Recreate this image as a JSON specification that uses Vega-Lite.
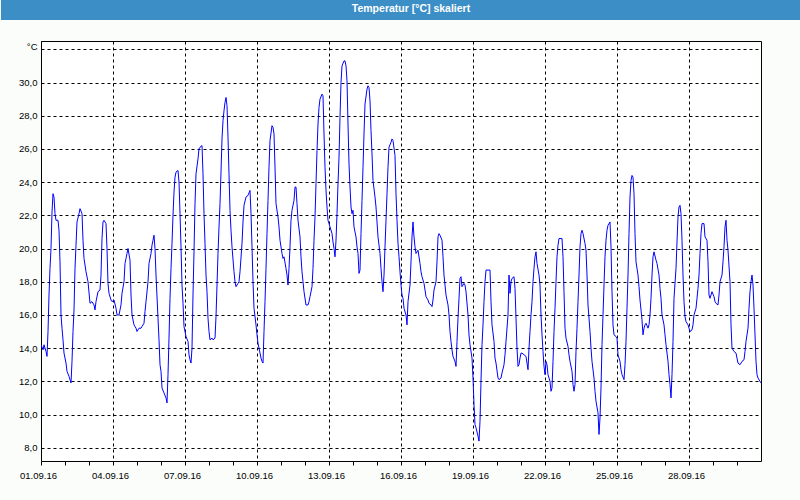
{
"$schema": "https://vega.github.io/schema/vega-lite/v6.json",
"background": "#fbfdfb",
"padding": {"left": 0, "top": 0, "right": 0, "bottom": 20},
"spacing": 20,
"config": {"font": "Liberation Sans"},
"vconcat": [
{
"width": 760, "height": 20,
"view": {"fill": "#3b8ec6", "stroke": null},
"data": {"values": [{"label": "Temperatur [°C] skaliert"}]},
"mark": {"type": "text", "color": "white", "font": "Liberation Sans", "fontSize": 10.5, "fontWeight": "bold", "dx": -10, "dy": -1, "baseline": "middle", "align": "center"},
"encoding": {
 "text": {"field": "label"},
 "y": {"field": "label", "type": "nominal", "axis": {"title": null, "labels": false, "ticks": false, "grid": false, "domain": true, "domainColor": "#3b8ec6", "domainWidth": 80, "domainCap": "butt", "translate": 0, "minExtent": 40, "maxExtent": 40}}
}
},
{
"width": 720, "height": 420,
"view": {"fill": "white", "stroke": "black", "strokeWidth": 1},
"data": {"values": [
{"t":"2016-09-01T00:00","v":14.2},{"t":"2016-09-01T02:00","v":13.9},{"t":"2016-09-01T03:00","v":14.2},{"t":"2016-09-01T05:00","v":13.8},{"t":"2016-09-01T06:00","v":13.5},{"t":"2016-09-01T07:00","v":15.0},{"t":"2016-09-01T08:00","v":17.2},{"t":"2016-09-01T09:00","v":18.8},{"t":"2016-09-01T10:00","v":20.0},{"t":"2016-09-01T11:00","v":22.2},{"t":"2016-09-01T12:00","v":23.3},{"t":"2016-09-01T13:00","v":23.1},{"t":"2016-09-01T14:00","v":22.1},{"t":"2016-09-01T15:00","v":21.7},{"t":"2016-09-01T17:00","v":21.7},{"t":"2016-09-01T18:00","v":21.1},{"t":"2016-09-01T19:00","v":19.2},{"t":"2016-09-01T20:00","v":16.0},{"t":"2016-09-01T21:00","v":15.2},{"t":"2016-09-01T22:00","v":14.5},{"t":"2016-09-01T23:00","v":13.7},
{"t":"2016-09-02T01:00","v":13.1},{"t":"2016-09-02T02:00","v":12.6},{"t":"2016-09-02T04:00","v":12.3},{"t":"2016-09-02T06:00","v":11.9},{"t":"2016-09-02T07:00","v":13.2},{"t":"2016-09-02T08:00","v":15.0},{"t":"2016-09-02T09:00","v":16.3},{"t":"2016-09-02T10:00","v":18.8},{"t":"2016-09-02T11:00","v":20.2},{"t":"2016-09-02T12:00","v":21.6},{"t":"2016-09-02T14:00","v":22.1},{"t":"2016-09-02T15:00","v":22.4},{"t":"2016-09-02T17:00","v":22.1},{"t":"2016-09-02T18:00","v":20.5},{"t":"2016-09-02T19:00","v":19.4},{"t":"2016-09-02T21:00","v":18.6},{"t":"2016-09-02T23:00","v":18.0},
{"t":"2016-09-03T01:00","v":16.7},{"t":"2016-09-03T03:00","v":16.8},{"t":"2016-09-03T05:00","v":16.6},{"t":"2016-09-03T06:00","v":16.3},{"t":"2016-09-03T07:00","v":16.8},{"t":"2016-09-03T09:00","v":17.4},{"t":"2016-09-03T11:00","v":17.5},{"t":"2016-09-03T12:00","v":18.4},{"t":"2016-09-03T13:00","v":20.6},{"t":"2016-09-03T14:00","v":21.6},{"t":"2016-09-03T15:00","v":21.7},{"t":"2016-09-03T17:00","v":21.5},{"t":"2016-09-03T18:00","v":20.0},{"t":"2016-09-03T19:00","v":17.9},{"t":"2016-09-03T20:00","v":17.3},{"t":"2016-09-03T22:00","v":16.9},{"t":"2016-09-03T23:00","v":16.8},
{"t":"2016-09-04T01:00","v":16.9},{"t":"2016-09-04T03:00","v":16.4},{"t":"2016-09-04T04:00","v":16.0},{"t":"2016-09-04T06:00","v":16.0},{"t":"2016-09-04T08:00","v":16.6},{"t":"2016-09-04T09:00","v":17.3},{"t":"2016-09-04T11:00","v":18.0},{"t":"2016-09-04T12:00","v":19.1},{"t":"2016-09-04T13:00","v":19.4},{"t":"2016-09-04T14:00","v":19.7},{"t":"2016-09-04T15:00","v":20.0},{"t":"2016-09-04T17:00","v":19.3},{"t":"2016-09-04T18:00","v":17.2},{"t":"2016-09-04T19:00","v":16.0},{"t":"2016-09-04T21:00","v":15.4},{"t":"2016-09-04T23:00","v":15.2},
{"t":"2016-09-05T00:00","v":15.0},{"t":"2016-09-05T02:00","v":15.2},{"t":"2016-09-05T04:00","v":15.2},{"t":"2016-09-05T05:00","v":15.3},{"t":"2016-09-05T07:00","v":15.5},{"t":"2016-09-05T08:00","v":16.2},{"t":"2016-09-05T09:00","v":16.8},{"t":"2016-09-05T11:00","v":18.0},{"t":"2016-09-05T12:00","v":19.1},{"t":"2016-09-05T14:00","v":19.7},{"t":"2016-09-05T15:00","v":20.2},{"t":"2016-09-05T16:00","v":20.5},{"t":"2016-09-05T17:00","v":20.8},{"t":"2016-09-05T18:00","v":20.0},{"t":"2016-09-05T19:00","v":18.4},{"t":"2016-09-05T21:00","v":15.8},{"t":"2016-09-05T22:00","v":14.5},{"t":"2016-09-05T23:00","v":13.0},
{"t":"2016-09-06T00:00","v":12.6},{"t":"2016-09-06T01:00","v":11.6},{"t":"2016-09-06T03:00","v":11.3},{"t":"2016-09-06T05:00","v":11.0},{"t":"2016-09-06T06:00","v":10.7},{"t":"2016-09-06T07:00","v":12.4},{"t":"2016-09-06T08:00","v":14.6},{"t":"2016-09-06T09:00","v":17.0},{"t":"2016-09-06T10:00","v":18.8},{"t":"2016-09-06T11:00","v":20.3},{"t":"2016-09-06T12:00","v":22.0},{"t":"2016-09-06T13:00","v":23.4},{"t":"2016-09-06T14:00","v":24.3},{"t":"2016-09-06T15:00","v":24.6},{"t":"2016-09-06T17:00","v":24.7},{"t":"2016-09-06T18:00","v":24.0},{"t":"2016-09-06T19:00","v":22.1},{"t":"2016-09-06T20:00","v":20.1},{"t":"2016-09-06T21:00","v":17.8},{"t":"2016-09-06T22:00","v":16.7},{"t":"2016-09-06T23:00","v":15.3},
{"t":"2016-09-07T01:00","v":14.7},{"t":"2016-09-07T03:00","v":14.4},{"t":"2016-09-07T04:00","v":13.6},{"t":"2016-09-07T05:00","v":13.3},{"t":"2016-09-07T06:00","v":13.1},{"t":"2016-09-07T07:00","v":14.0},{"t":"2016-09-07T08:00","v":17.2},{"t":"2016-09-07T09:00","v":19.8},{"t":"2016-09-07T10:00","v":22.7},{"t":"2016-09-07T11:00","v":24.5},{"t":"2016-09-07T13:00","v":25.4},{"t":"2016-09-07T14:00","v":26.0},{"t":"2016-09-07T15:00","v":26.1},{"t":"2016-09-07T17:00","v":26.2},{"t":"2016-09-07T18:00","v":24.5},{"t":"2016-09-07T19:00","v":22.1},{"t":"2016-09-07T20:00","v":20.3},{"t":"2016-09-07T21:00","v":18.4},{"t":"2016-09-07T22:00","v":17.4},{"t":"2016-09-07T23:00","v":15.8},
{"t":"2016-09-08T00:00","v":15.0},{"t":"2016-09-08T01:00","v":14.5},{"t":"2016-09-08T03:00","v":14.6},{"t":"2016-09-08T04:00","v":14.5},{"t":"2016-09-08T06:00","v":14.6},{"t":"2016-09-08T07:00","v":15.9},{"t":"2016-09-08T08:00","v":17.8},{"t":"2016-09-08T09:00","v":19.7},{"t":"2016-09-08T10:00","v":21.3},{"t":"2016-09-08T11:00","v":22.7},{"t":"2016-09-08T12:00","v":24.6},{"t":"2016-09-08T13:00","v":26.6},{"t":"2016-09-08T14:00","v":27.7},{"t":"2016-09-08T15:00","v":28.3},{"t":"2016-09-08T16:00","v":28.8},{"t":"2016-09-08T17:00","v":29.1},{"t":"2016-09-08T18:00","v":28.6},{"t":"2016-09-08T19:00","v":26.7},{"t":"2016-09-08T20:00","v":24.5},{"t":"2016-09-08T21:00","v":22.3},{"t":"2016-09-08T22:00","v":21.1},{"t":"2016-09-08T23:00","v":20.1},
{"t":"2016-09-09T01:00","v":18.6},{"t":"2016-09-09T02:00","v":18.0},{"t":"2016-09-09T03:00","v":17.7},{"t":"2016-09-09T05:00","v":17.9},{"t":"2016-09-09T06:00","v":18.0},{"t":"2016-09-09T07:00","v":18.6},{"t":"2016-09-09T09:00","v":20.3},{"t":"2016-09-09T10:00","v":21.6},{"t":"2016-09-09T11:00","v":22.6},{"t":"2016-09-09T13:00","v":23.1},{"t":"2016-09-09T15:00","v":23.2},{"t":"2016-09-09T17:00","v":23.5},{"t":"2016-09-09T18:00","v":22.1},{"t":"2016-09-09T19:00","v":20.1},{"t":"2016-09-09T20:00","v":18.0},{"t":"2016-09-09T21:00","v":16.4},{"t":"2016-09-09T23:00","v":15.4},
{"t":"2016-09-10T00:00","v":14.8},{"t":"2016-09-10T01:00","v":14.3},{"t":"2016-09-10T03:00","v":13.7},{"t":"2016-09-10T04:00","v":13.4},{"t":"2016-09-10T05:00","v":13.2},{"t":"2016-09-10T06:00","v":13.1},{"t":"2016-09-10T07:00","v":15.0},{"t":"2016-09-10T08:00","v":16.8},{"t":"2016-09-10T09:00","v":18.8},{"t":"2016-09-10T10:00","v":20.9},{"t":"2016-09-10T11:00","v":22.9},{"t":"2016-09-10T12:00","v":24.9},{"t":"2016-09-10T13:00","v":26.5},{"t":"2016-09-10T15:00","v":27.4},{"t":"2016-09-10T16:00","v":27.3},{"t":"2016-09-10T17:00","v":26.9},{"t":"2016-09-10T18:00","v":24.9},{"t":"2016-09-10T19:00","v":22.7},{"t":"2016-09-10T21:00","v":21.9},{"t":"2016-09-10T22:00","v":21.3},{"t":"2016-09-10T23:00","v":20.5},
{"t":"2016-09-11T01:00","v":19.7},{"t":"2016-09-11T02:00","v":19.4},{"t":"2016-09-11T03:00","v":19.5},{"t":"2016-09-11T05:00","v":18.8},{"t":"2016-09-11T06:00","v":18.4},{"t":"2016-09-11T07:00","v":17.8},{"t":"2016-09-11T08:00","v":18.8},{"t":"2016-09-11T09:00","v":20.1},{"t":"2016-09-11T10:00","v":21.7},{"t":"2016-09-11T11:00","v":22.3},{"t":"2016-09-11T13:00","v":22.9},{"t":"2016-09-11T14:00","v":23.7},{"t":"2016-09-11T15:00","v":23.7},{"t":"2016-09-11T16:00","v":22.7},{"t":"2016-09-11T17:00","v":21.7},{"t":"2016-09-11T19:00","v":20.7},{"t":"2016-09-11T20:00","v":19.5},{"t":"2016-09-11T21:00","v":18.6},{"t":"2016-09-11T22:00","v":18.0},{"t":"2016-09-11T23:00","v":17.4},
{"t":"2016-09-12T01:00","v":16.6},{"t":"2016-09-12T03:00","v":16.6},{"t":"2016-09-12T04:00","v":16.8},{"t":"2016-09-12T05:00","v":17.1},{"t":"2016-09-12T07:00","v":17.7},{"t":"2016-09-12T08:00","v":18.8},{"t":"2016-09-12T09:00","v":20.5},{"t":"2016-09-12T10:00","v":21.9},{"t":"2016-09-12T11:00","v":23.9},{"t":"2016-09-12T12:00","v":25.9},{"t":"2016-09-12T13:00","v":27.5},{"t":"2016-09-12T14:00","v":28.5},{"t":"2016-09-12T15:00","v":29.0},{"t":"2016-09-12T17:00","v":29.3},{"t":"2016-09-12T18:00","v":29.2},{"t":"2016-09-12T19:00","v":26.9},{"t":"2016-09-12T20:00","v":24.9},{"t":"2016-09-12T21:00","v":23.5},{"t":"2016-09-12T22:00","v":22.5},{"t":"2016-09-12T23:00","v":21.7},
{"t":"2016-09-13T00:00","v":21.5},{"t":"2016-09-13T01:00","v":21.3},{"t":"2016-09-13T03:00","v":20.9},{"t":"2016-09-13T04:00","v":20.4},{"t":"2016-09-13T05:00","v":20.0},{"t":"2016-09-13T06:00","v":19.5},{"t":"2016-09-13T07:00","v":20.5},{"t":"2016-09-13T08:00","v":22.1},{"t":"2016-09-13T09:00","v":23.9},{"t":"2016-09-13T10:00","v":25.5},{"t":"2016-09-13T11:00","v":27.9},{"t":"2016-09-13T12:00","v":30.0},{"t":"2016-09-13T13:00","v":31.0},{"t":"2016-09-13T15:00","v":31.3},{"t":"2016-09-13T16:00","v":31.3},{"t":"2016-09-13T17:00","v":31.0},{"t":"2016-09-13T18:00","v":30.1},{"t":"2016-09-13T19:00","v":27.5},{"t":"2016-09-13T20:00","v":25.1},{"t":"2016-09-13T21:00","v":23.7},{"t":"2016-09-13T22:00","v":22.5},{"t":"2016-09-13T23:00","v":22.1},
{"t":"2016-09-14T00:00","v":22.3},{"t":"2016-09-14T01:00","v":21.3},{"t":"2016-09-14T03:00","v":20.7},{"t":"2016-09-14T04:00","v":20.1},{"t":"2016-09-14T05:00","v":19.7},{"t":"2016-09-14T06:00","v":18.5},{"t":"2016-09-14T07:00","v":18.7},{"t":"2016-09-14T08:00","v":20.9},{"t":"2016-09-14T09:00","v":22.9},{"t":"2016-09-14T10:00","v":24.9},{"t":"2016-09-14T11:00","v":26.9},{"t":"2016-09-14T12:00","v":28.7},{"t":"2016-09-14T14:00","v":29.6},{"t":"2016-09-14T15:00","v":29.8},{"t":"2016-09-14T16:00","v":29.7},{"t":"2016-09-14T17:00","v":28.9},{"t":"2016-09-14T18:00","v":27.1},{"t":"2016-09-14T19:00","v":25.7},{"t":"2016-09-14T20:00","v":24.1},{"t":"2016-09-14T22:00","v":23.1},{"t":"2016-09-14T23:00","v":22.5},
{"t":"2016-09-15T00:00","v":21.6},{"t":"2016-09-15T01:00","v":20.7},{"t":"2016-09-15T03:00","v":19.7},{"t":"2016-09-15T04:00","v":18.8},{"t":"2016-09-15T05:00","v":18.0},{"t":"2016-09-15T06:00","v":17.4},{"t":"2016-09-15T07:00","v":18.4},{"t":"2016-09-15T08:00","v":20.1},{"t":"2016-09-15T09:00","v":21.7},{"t":"2016-09-15T10:00","v":23.3},{"t":"2016-09-15T11:00","v":24.9},{"t":"2016-09-15T12:00","v":26.1},{"t":"2016-09-15T14:00","v":26.4},{"t":"2016-09-15T15:00","v":26.6},{"t":"2016-09-15T16:00","v":26.5},{"t":"2016-09-15T18:00","v":25.6},{"t":"2016-09-15T19:00","v":23.3},{"t":"2016-09-15T20:00","v":21.7},{"t":"2016-09-15T21:00","v":20.3},{"t":"2016-09-15T22:00","v":19.5},{"t":"2016-09-15T23:00","v":18.6},
{"t":"2016-09-16T00:00","v":17.8},{"t":"2016-09-16T01:00","v":17.2},{"t":"2016-09-16T02:00","v":17.0},{"t":"2016-09-16T03:00","v":16.4},{"t":"2016-09-16T05:00","v":16.0},{"t":"2016-09-16T06:00","v":15.4},{"t":"2016-09-16T07:00","v":16.8},{"t":"2016-09-16T09:00","v":17.8},{"t":"2016-09-16T10:00","v":19.2},{"t":"2016-09-16T11:00","v":20.7},{"t":"2016-09-16T12:00","v":21.6},{"t":"2016-09-16T13:00","v":20.7},{"t":"2016-09-16T14:00","v":20.1},{"t":"2016-09-16T15:00","v":19.7},{"t":"2016-09-16T17:00","v":19.9},{"t":"2016-09-16T19:00","v":19.1},{"t":"2016-09-16T20:00","v":18.6},{"t":"2016-09-16T21:00","v":18.3},{"t":"2016-09-16T23:00","v":17.9},
{"t":"2016-09-17T00:00","v":17.5},{"t":"2016-09-17T01:00","v":17.1},{"t":"2016-09-17T03:00","v":16.9},{"t":"2016-09-17T04:00","v":16.7},{"t":"2016-09-17T06:00","v":16.6},{"t":"2016-09-17T07:00","v":16.5},{"t":"2016-09-17T08:00","v":16.9},{"t":"2016-09-17T09:00","v":17.5},{"t":"2016-09-17T11:00","v":18.0},{"t":"2016-09-17T12:00","v":19.2},{"t":"2016-09-17T13:00","v":20.7},{"t":"2016-09-17T14:00","v":20.9},{"t":"2016-09-17T15:00","v":20.8},{"t":"2016-09-17T17:00","v":20.5},{"t":"2016-09-17T18:00","v":19.5},{"t":"2016-09-17T19:00","v":18.4},{"t":"2016-09-17T20:00","v":17.8},{"t":"2016-09-17T21:00","v":17.2},{"t":"2016-09-17T23:00","v":16.6},
{"t":"2016-09-18T00:00","v":16.0},{"t":"2016-09-18T01:00","v":15.0},{"t":"2016-09-18T02:00","v":14.4},{"t":"2016-09-18T03:00","v":13.9},{"t":"2016-09-18T04:00","v":13.5},{"t":"2016-09-18T06:00","v":13.2},{"t":"2016-09-18T07:00","v":12.9},{"t":"2016-09-18T08:00","v":14.4},{"t":"2016-09-18T09:00","v":15.8},{"t":"2016-09-18T10:00","v":17.0},{"t":"2016-09-18T11:00","v":18.2},{"t":"2016-09-18T12:00","v":18.3},{"t":"2016-09-18T13:00","v":17.7},{"t":"2016-09-18T15:00","v":17.9},{"t":"2016-09-18T16:00","v":17.8},{"t":"2016-09-18T17:00","v":17.4},{"t":"2016-09-18T19:00","v":16.0},{"t":"2016-09-18T20:00","v":14.8},{"t":"2016-09-18T21:00","v":14.2},{"t":"2016-09-18T23:00","v":13.4},
{"t":"2016-09-19T00:00","v":12.2},{"t":"2016-09-19T01:00","v":10.6},{"t":"2016-09-19T02:00","v":9.4},{"t":"2016-09-19T03:00","v":9.2},{"t":"2016-09-19T05:00","v":8.7},{"t":"2016-09-19T06:00","v":8.4},{"t":"2016-09-19T07:00","v":9.6},{"t":"2016-09-19T08:00","v":12.0},{"t":"2016-09-19T09:00","v":14.2},{"t":"2016-09-19T10:00","v":15.4},{"t":"2016-09-19T11:00","v":16.8},{"t":"2016-09-19T12:00","v":18.0},{"t":"2016-09-19T13:00","v":18.7},{"t":"2016-09-19T16:00","v":18.7},{"t":"2016-09-19T17:00","v":18.7},{"t":"2016-09-19T18:00","v":16.8},{"t":"2016-09-19T19:00","v":15.4},{"t":"2016-09-19T21:00","v":14.4},{"t":"2016-09-19T22:00","v":13.4},{"t":"2016-09-19T23:00","v":13.1},
{"t":"2016-09-20T01:00","v":12.2},{"t":"2016-09-20T02:00","v":12.1},{"t":"2016-09-20T04:00","v":12.2},{"t":"2016-09-20T05:00","v":12.5},{"t":"2016-09-20T07:00","v":13.0},{"t":"2016-09-20T08:00","v":13.6},{"t":"2016-09-20T09:00","v":14.4},{"t":"2016-09-20T11:00","v":16.0},{"t":"2016-09-20T12:00","v":18.4},{"t":"2016-09-20T13:00","v":17.3},{"t":"2016-09-20T14:00","v":18.0},{"t":"2016-09-20T15:00","v":18.2},{"t":"2016-09-20T17:00","v":18.3},{"t":"2016-09-20T18:00","v":17.6},{"t":"2016-09-20T19:00","v":15.8},{"t":"2016-09-20T20:00","v":14.0},{"t":"2016-09-20T21:00","v":12.9},{"t":"2016-09-20T22:00","v":13.0},{"t":"2016-09-20T23:00","v":13.4},
{"t":"2016-09-21T00:00","v":13.7},{"t":"2016-09-21T01:00","v":13.7},{"t":"2016-09-21T03:00","v":13.6},{"t":"2016-09-21T05:00","v":13.5},{"t":"2016-09-21T06:00","v":13.1},{"t":"2016-09-21T07:00","v":12.7},{"t":"2016-09-21T08:00","v":14.0},{"t":"2016-09-21T09:00","v":15.0},{"t":"2016-09-21T10:00","v":16.0},{"t":"2016-09-21T11:00","v":16.8},{"t":"2016-09-21T12:00","v":18.0},{"t":"2016-09-21T13:00","v":18.8},{"t":"2016-09-21T14:00","v":19.5},{"t":"2016-09-21T15:00","v":19.8},{"t":"2016-09-21T16:00","v":19.1},{"t":"2016-09-21T18:00","v":18.4},{"t":"2016-09-21T19:00","v":17.8},{"t":"2016-09-21T20:00","v":16.0},{"t":"2016-09-21T21:00","v":14.8},{"t":"2016-09-21T22:00","v":13.8},{"t":"2016-09-21T23:00","v":12.9},
{"t":"2016-09-22T00:00","v":12.4},{"t":"2016-09-22T01:00","v":13.2},{"t":"2016-09-22T02:00","v":13.0},{"t":"2016-09-22T03:00","v":12.4},{"t":"2016-09-22T05:00","v":12.0},{"t":"2016-09-22T06:00","v":11.4},{"t":"2016-09-22T07:00","v":11.6},{"t":"2016-09-22T08:00","v":13.2},{"t":"2016-09-22T09:00","v":15.0},{"t":"2016-09-22T10:00","v":16.4},{"t":"2016-09-22T11:00","v":18.0},{"t":"2016-09-22T12:00","v":19.5},{"t":"2016-09-22T13:00","v":20.2},{"t":"2016-09-22T14:00","v":20.6},{"t":"2016-09-22T16:00","v":20.6},{"t":"2016-09-22T17:00","v":20.6},{"t":"2016-09-22T18:00","v":19.5},{"t":"2016-09-22T19:00","v":17.4},{"t":"2016-09-22T20:00","v":15.2},{"t":"2016-09-22T21:00","v":14.6},{"t":"2016-09-22T23:00","v":14.1},
{"t":"2016-09-23T00:00","v":13.6},{"t":"2016-09-23T01:00","v":13.2},{"t":"2016-09-23T03:00","v":12.6},{"t":"2016-09-23T04:00","v":11.8},{"t":"2016-09-23T05:00","v":11.4},{"t":"2016-09-23T06:00","v":11.8},{"t":"2016-09-23T07:00","v":13.8},{"t":"2016-09-23T08:00","v":15.2},{"t":"2016-09-23T09:00","v":16.8},{"t":"2016-09-23T10:00","v":18.4},{"t":"2016-09-23T11:00","v":20.1},{"t":"2016-09-23T12:00","v":20.9},{"t":"2016-09-23T13:00","v":21.1},{"t":"2016-09-23T14:00","v":20.9},{"t":"2016-09-23T16:00","v":20.3},{"t":"2016-09-23T17:00","v":19.9},{"t":"2016-09-23T18:00","v":18.4},{"t":"2016-09-23T19:00","v":16.6},{"t":"2016-09-23T21:00","v":15.0},{"t":"2016-09-23T22:00","v":14.0},{"t":"2016-09-23T23:00","v":13.2},
{"t":"2016-09-24T01:00","v":12.2},{"t":"2016-09-24T02:00","v":11.4},{"t":"2016-09-24T03:00","v":10.8},{"t":"2016-09-24T05:00","v":10.1},{"t":"2016-09-24T06:00","v":8.8},{"t":"2016-09-24T07:00","v":9.8},{"t":"2016-09-24T08:00","v":11.6},{"t":"2016-09-24T09:00","v":14.2},{"t":"2016-09-24T10:00","v":16.0},{"t":"2016-09-24T11:00","v":17.8},{"t":"2016-09-24T12:00","v":19.5},{"t":"2016-09-24T13:00","v":20.5},{"t":"2016-09-24T14:00","v":21.1},{"t":"2016-09-24T15:00","v":21.4},{"t":"2016-09-24T17:00","v":21.6},{"t":"2016-09-24T18:00","v":20.1},{"t":"2016-09-24T19:00","v":17.4},{"t":"2016-09-24T20:00","v":15.4},{"t":"2016-09-24T21:00","v":14.8},{"t":"2016-09-24T23:00","v":14.7},
{"t":"2016-09-25T00:00","v":14.6},{"t":"2016-09-25T01:00","v":13.6},{"t":"2016-09-25T03:00","v":13.2},{"t":"2016-09-25T04:00","v":12.7},{"t":"2016-09-25T05:00","v":12.4},{"t":"2016-09-25T07:00","v":12.1},{"t":"2016-09-25T08:00","v":13.0},{"t":"2016-09-25T09:00","v":14.4},{"t":"2016-09-25T10:00","v":16.4},{"t":"2016-09-25T11:00","v":18.4},{"t":"2016-09-25T12:00","v":20.9},{"t":"2016-09-25T13:00","v":23.1},{"t":"2016-09-25T14:00","v":24.1},{"t":"2016-09-25T15:00","v":24.4},{"t":"2016-09-25T16:00","v":24.3},{"t":"2016-09-25T17:00","v":23.3},{"t":"2016-09-25T18:00","v":20.9},{"t":"2016-09-25T19:00","v":19.2},{"t":"2016-09-25T21:00","v":18.4},{"t":"2016-09-25T22:00","v":17.7},{"t":"2016-09-25T23:00","v":16.9},
{"t":"2016-09-26T01:00","v":15.7},{"t":"2016-09-26T02:00","v":14.8},{"t":"2016-09-26T03:00","v":15.2},{"t":"2016-09-26T04:00","v":15.4},{"t":"2016-09-26T05:00","v":15.5},{"t":"2016-09-26T07:00","v":15.2},{"t":"2016-09-26T08:00","v":15.4},{"t":"2016-09-26T09:00","v":16.0},{"t":"2016-09-26T10:00","v":17.0},{"t":"2016-09-26T11:00","v":18.4},{"t":"2016-09-26T12:00","v":19.5},{"t":"2016-09-26T13:00","v":19.8},{"t":"2016-09-26T15:00","v":19.3},{"t":"2016-09-26T16:00","v":19.1},{"t":"2016-09-26T18:00","v":18.4},{"t":"2016-09-26T19:00","v":17.6},{"t":"2016-09-26T20:00","v":17.0},{"t":"2016-09-26T21:00","v":16.0},{"t":"2016-09-26T23:00","v":15.4},
{"t":"2016-09-27T00:00","v":14.8},{"t":"2016-09-27T01:00","v":14.2},{"t":"2016-09-27T03:00","v":13.2},{"t":"2016-09-27T04:00","v":12.4},{"t":"2016-09-27T05:00","v":11.8},{"t":"2016-09-27T06:00","v":11.0},{"t":"2016-09-27T07:00","v":12.4},{"t":"2016-09-27T08:00","v":14.4},{"t":"2016-09-27T09:00","v":17.0},{"t":"2016-09-27T11:00","v":18.8},{"t":"2016-09-27T12:00","v":20.4},{"t":"2016-09-27T13:00","v":21.9},{"t":"2016-09-27T14:00","v":22.5},{"t":"2016-09-27T15:00","v":22.6},{"t":"2016-09-27T16:00","v":22.1},{"t":"2016-09-27T17:00","v":20.5},{"t":"2016-09-27T18:00","v":18.4},{"t":"2016-09-27T19:00","v":16.8},{"t":"2016-09-27T20:00","v":15.9},{"t":"2016-09-27T21:00","v":15.6},{"t":"2016-09-27T23:00","v":15.4},
{"t":"2016-09-28T00:00","v":15.2},{"t":"2016-09-28T01:00","v":15.0},{"t":"2016-09-28T03:00","v":15.1},{"t":"2016-09-28T04:00","v":15.4},{"t":"2016-09-28T05:00","v":16.0},{"t":"2016-09-28T07:00","v":16.4},{"t":"2016-09-28T08:00","v":17.0},{"t":"2016-09-28T09:00","v":17.6},{"t":"2016-09-28T10:00","v":18.4},{"t":"2016-09-28T11:00","v":19.7},{"t":"2016-09-28T12:00","v":20.9},{"t":"2016-09-28T13:00","v":21.5},{"t":"2016-09-28T15:00","v":21.5},{"t":"2016-09-28T16:00","v":20.7},{"t":"2016-09-28T18:00","v":20.5},{"t":"2016-09-28T19:00","v":19.2},{"t":"2016-09-28T20:00","v":17.2},{"t":"2016-09-28T21:00","v":17.0},{"t":"2016-09-28T22:00","v":17.2},{"t":"2016-09-28T23:00","v":17.4},
{"t":"2016-09-29T01:00","v":17.1},{"t":"2016-09-29T02:00","v":16.8},{"t":"2016-09-29T03:00","v":16.7},{"t":"2016-09-29T05:00","v":16.6},{"t":"2016-09-29T06:00","v":17.2},{"t":"2016-09-29T07:00","v":18.0},{"t":"2016-09-29T09:00","v":18.4},{"t":"2016-09-29T10:00","v":19.2},{"t":"2016-09-29T11:00","v":20.1},{"t":"2016-09-29T12:00","v":21.3},{"t":"2016-09-29T13:00","v":21.7},{"t":"2016-09-29T14:00","v":20.5},{"t":"2016-09-29T15:00","v":19.9},{"t":"2016-09-29T17:00","v":18.0},{"t":"2016-09-29T18:00","v":15.4},{"t":"2016-09-29T19:00","v":14.0},{"t":"2016-09-29T21:00","v":13.8},{"t":"2016-09-29T23:00","v":13.7},
{"t":"2016-09-30T00:00","v":13.4},{"t":"2016-09-30T01:00","v":13.1},{"t":"2016-09-30T03:00","v":13.0},{"t":"2016-09-30T04:00","v":13.1},{"t":"2016-09-30T05:00","v":13.2},{"t":"2016-09-30T07:00","v":13.3},{"t":"2016-09-30T08:00","v":13.8},{"t":"2016-09-30T09:00","v":14.4},{"t":"2016-09-30T11:00","v":15.2},{"t":"2016-09-30T12:00","v":16.4},{"t":"2016-09-30T13:00","v":17.4},{"t":"2016-09-30T14:00","v":18.0},{"t":"2016-09-30T15:00","v":18.4},{"t":"2016-09-30T16:00","v":17.8},{"t":"2016-09-30T17:00","v":16.4},{"t":"2016-09-30T18:00","v":14.8},{"t":"2016-09-30T19:00","v":13.2},{"t":"2016-09-30T20:00","v":12.4},{"t":"2016-09-30T21:00","v":12.2},{"t":"2016-09-30T23:00","v":12.0},
{"t":"2016-10-01T00:00","v":11.9}
]},
"mark": {"type": "line", "color": "#0000ff", "strokeWidth": 1, "clip": true},
"encoding": {
"x": {"field": "t", "type": "temporal",
 "scale": {"domain": [{"year": 2016, "month": 9, "date": 1}, {"year": 2016, "month": 10, "date": 1}], "nice": false},
 "axis": {
  "title": null,
  "values": [{"year":2016,"month":9,"date":1},{"year":2016,"month":9,"date":2},{"year":2016,"month":9,"date":3},{"year":2016,"month":9,"date":4},{"year":2016,"month":9,"date":5},{"year":2016,"month":9,"date":6},{"year":2016,"month":9,"date":7},{"year":2016,"month":9,"date":8},{"year":2016,"month":9,"date":9},{"year":2016,"month":9,"date":10},{"year":2016,"month":9,"date":11},{"year":2016,"month":9,"date":12},{"year":2016,"month":9,"date":13},{"year":2016,"month":9,"date":14},{"year":2016,"month":9,"date":15},{"year":2016,"month":9,"date":16},{"year":2016,"month":9,"date":17},{"year":2016,"month":9,"date":18},{"year":2016,"month":9,"date":19},{"year":2016,"month":9,"date":20},{"year":2016,"month":9,"date":21},{"year":2016,"month":9,"date":22},{"year":2016,"month":9,"date":23},{"year":2016,"month":9,"date":24},{"year":2016,"month":9,"date":25},{"year":2016,"month":9,"date":26},{"year":2016,"month":9,"date":27},{"year":2016,"month":9,"date":28},{"year":2016,"month":9,"date":29},{"year":2016,"month":9,"date":30}],
  "format": "%d.%m.%y",
  "labelExpr": "date(datum.value) % 3 == 1 ? datum.label : ''",
  "labelOverlap": false,
  "labelFlush": false,
  "labelFont": "Liberation Sans", "labelFontSize": 9.5, "labelColor": "black",
  "labelPadding": 5, "labelOffset": -3,
  "domain": false,
  "ticks": true, "tickSize": 4, "tickColor": "black", "tickWidth": 1,
  "grid": true, "gridColor": "black", "gridDash": [3, 3], "gridWidth": 1,
  "gridOpacity": {"condition": {"test": "date(datum.value) % 3 == 1", "value": 1}, "value": 0}
 }},
"y": {"field": "v", "type": "quantitative",
 "scale": {"domain": [7.2, 32.5], "nice": false, "zero": false},
 "axis": {
  "values": [8, 10, 12, 14, 16, 18, 20, 22, 24, 26, 28, 30, 32],
  "labelExpr": "datum.value >= 32 ? '' : replace(format(datum.value, '.1f'), '.', ',')",
  "labelOverlap": false,
  "labelFont": "Liberation Sans", "labelFontSize": 9.5, "labelColor": "black",
  "labelPadding": 4,
  "domain": false, "ticks": false,
  "grid": true, "gridColor": "black", "gridDash": [3, 3], "gridWidth": 1,
  "minExtent": 40, "maxExtent": 40,
  "title": "°C", "titleAngle": 0, "titleX": -4, "titleY": 5, "titleAlign": "right", "titleBaseline": "middle",
  "titleFont": "Liberation Sans", "titleFontSize": 9.5, "titleFontWeight": "normal", "titleColor": "black"
 }}
}
}
]
}
